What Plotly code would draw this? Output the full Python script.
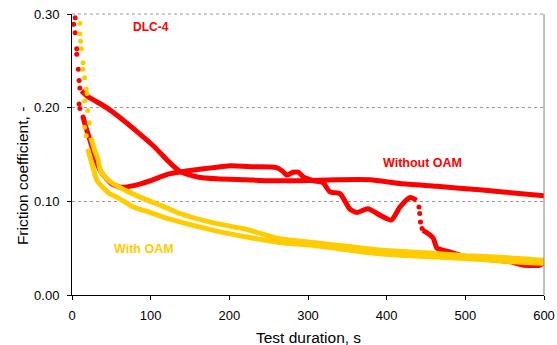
import plotly.graph_objects as go

RED = "#FF0000"
YEL = "#FFCC00"

# Red curve A (starts high, ends ~0.105) - early sparse samples
red_a_dots_x = [2, 4, 4, 6, 6, 8, 9, 10]
red_a_dots_y = [0.289, 0.296, 0.280, 0.263, 0.257, 0.241, 0.229, 0.221]
red_a_x = [12, 20, 30, 44, 60, 86, 105, 121, 137, 160, 184, 220, 252, 290, 337, 379, 417, 464, 522, 548, 600]
red_a_y = [0.218, 0.212, 0.207, 0.200, 0.190, 0.172, 0.158, 0.144, 0.132, 0.126, 0.124, 0.123, 0.122, 0.122, 0.123, 0.123, 0.119, 0.116, 0.112, 0.110, 0.106]

# Red curve B (drops, rises, wavy drop to ~0.03)
red_b_dots_x = [9, 10, 14]
red_b_dots_y = [0.204, 0.199, 0.190]
red_b_x = [14, 18, 24, 30, 37, 44, 50, 62, 80, 100, 122, 135, 160, 180, 201, 230, 260, 268, 273, 281,
           288, 294, 307, 319, 328, 341, 353, 362, 376, 392, 406, 417, 430, 438]
red_b_y = [0.190, 0.178, 0.162, 0.145, 0.131, 0.124, 0.119, 0.115, 0.117, 0.122, 0.129, 0.131, 0.134, 0.136,
           0.138, 0.137, 0.136, 0.132, 0.128, 0.131, 0.131, 0.126, 0.122, 0.120, 0.110, 0.108, 0.092, 0.088,
           0.092, 0.085, 0.080, 0.094, 0.104, 0.101]
red_b_drop_x = [441, 442, 443, 445]
red_b_drop_y = [0.094, 0.087, 0.078, 0.071]
red_b_tail_x = [446, 452, 459, 464, 476, 500, 530, 560, 573, 595, 600]
red_b_tail_y = [0.069, 0.066, 0.061, 0.050, 0.047, 0.041, 0.038, 0.035, 0.032, 0.032, 0.035]

# Yellow curves (With OAM)
yel_a_dots_x = [10, 10, 11, 12, 14, 16, 18, 19, 22]
yel_a_dots_y = [0.290, 0.279, 0.271, 0.263, 0.248, 0.232, 0.220, 0.215, 0.184]
yel_a_x = [24, 29, 33, 37, 50, 67, 88, 112, 137, 180, 222, 264, 306, 350, 391, 450, 500, 550, 600]
yel_a_y = [0.168, 0.154, 0.145, 0.131, 0.120, 0.112, 0.104, 0.096, 0.087, 0.077, 0.070, 0.060, 0.056,
           0.052, 0.048, 0.045, 0.042, 0.040, 0.037]

yel_b_dots_x = [14, 16, 16, 18, 20]
yel_b_dots_y = [0.241, 0.207, 0.179, 0.170, 0.197]
yel_b_x = [20, 24, 27, 32, 48, 58, 78, 100, 120, 137, 180, 222, 264, 306, 391, 450, 500, 550, 600]
yel_b_y = [0.156, 0.144, 0.135, 0.122, 0.108, 0.104, 0.094, 0.088, 0.082, 0.078, 0.069, 0.062, 0.056,
           0.053, 0.044, 0.041, 0.039, 0.036, 0.034]

x_ticks = [0, 100, 200, 300, 400, 500, 600]
y_ticks = [0.0, 0.1, 0.2, 0.3]

fig = go.Figure()

def line(x, y, c, smooth=True):
    fig.add_trace(go.Scatter(x=x, y=y, mode="lines",
                             line=dict(color=c, width=5, shape="spline" if smooth else "linear",
                                       smoothing=0.6),
                             hoverinfo="skip", showlegend=False))

def dots(x, y, c, s=5):
    fig.add_trace(go.Scatter(x=x, y=y, mode="markers", marker=dict(color=c, size=s, line=dict(width=0)),
                             hoverinfo="skip", showlegend=False))

line(red_a_x, red_a_y, RED)
dots(red_a_dots_x, red_a_dots_y, RED)
line(red_b_x, red_b_y, RED)
dots(red_b_dots_x, red_b_dots_y, RED)
dots(red_b_drop_x, red_b_drop_y, RED)
line(red_b_tail_x, red_b_tail_y, RED)
line(yel_a_x, yel_a_y, YEL)
dots(yel_a_dots_x, yel_a_dots_y, YEL)
line(yel_b_x, yel_b_y, YEL)
dots(yel_b_dots_x, yel_b_dots_y, YEL)

font_family = "Liberation Sans, Arial, sans-serif"

fig.update_layout(
    width=557, height=345,
    margin=dict(l=72, r=13, t=14, b=50, autoexpand=False),
    paper_bgcolor="white", plot_bgcolor="white",
    font=dict(family=font_family, size=13, color="black"),
    xaxis=dict(range=[0, 600], tickvals=x_ticks, ticks="outside", ticklen=4, tickcolor="black",
               showline=True, linecolor="black", linewidth=1, showgrid=False, zeroline=False,
               ticklabelstandoff=4, automargin=False,
               tickfont=dict(size=13)),
    yaxis=dict(range=[0, 0.30], tickvals=y_ticks, tickformat=".2f", ticks="outside", ticklen=4,
               tickcolor="black", showline=True, linecolor="black", linewidth=1,
               ticklabelstandoff=5, automargin=False,
               showgrid=True, gridcolor="#999999", griddash="dot", gridwidth=1, zeroline=False,
               tickfont=dict(size=13)),
    shapes=[dict(type="line", xref="paper", yref="paper", x0=1, x1=1, y0=0, y1=1,
                 line=dict(color="#808080", width=1)),
            dict(type="line", xref="paper", yref="paper", x0=0, x1=1, y0=1, y1=1,
                 line=dict(color="#999999", width=1, dash="dot"))],
    annotations=[
        dict(text="Friction coefficient, -", xref="paper", yref="paper", x=-0.106, y=0.423,
             textangle=-90, showarrow=False, font=dict(size=15.5), xanchor="center", yanchor="middle"),
        dict(text="Test duration, s", xref="paper", yref="paper", x=0.5, y=-0.1495,
             showarrow=False, font=dict(size=15.5), xanchor="center", yanchor="middle"),
        dict(text="<b>DLC-4</b>", x=100, y=0.286, showarrow=False, font=dict(size=12, color=RED)),
        dict(text="<b>Without OAM</b>", x=446, y=0.141, showarrow=False, font=dict(size=12.5, color=RED)),
        dict(text="<b>With OAM</b>", x=91.5, y=0.049, showarrow=False, font=dict(size=12.5, color=YEL)),
    ],
)

fig.write_html("out.html")
